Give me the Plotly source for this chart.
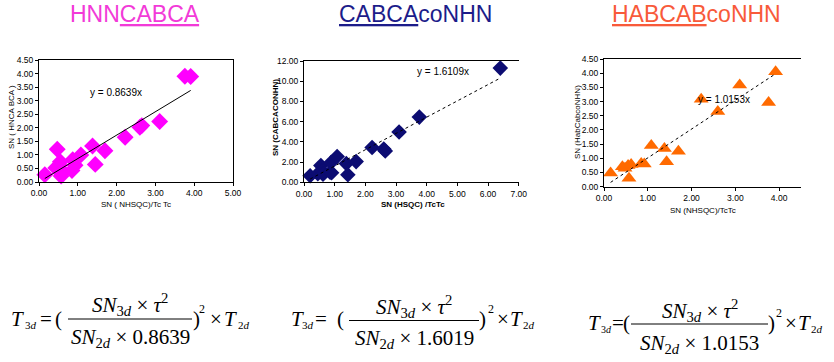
import plotly.graph_objects as go

# ---------------- data ----------------
chart_titles = ["HNN<u>CABCA</u>", "<u>CABCA</u>coNHN", "<u>HABCAB</u>coNHN"]

x1 = [0.15, 0.47, 0.43, 0.52, 0.55, 0.57, 0.62, 0.85, 0.87, 0.93, 1.08, 1.38, 1.45, 1.70, 2.22, 2.60, 2.65, 3.11, 3.76, 3.91]
y1 = [0.27, 1.21, 0.52, 0.62, 0.75, 0.22, 0.38, 0.42, 0.82, 0.62, 1.00, 1.33, 0.65, 1.15, 1.65, 2.02, 2.08, 2.23, 3.90, 3.89]

x2 = [0.20, 0.45, 0.55, 0.60, 0.62, 0.85, 0.88, 0.90, 1.08, 1.38, 1.43, 1.70, 2.22, 2.60, 2.65, 3.10, 3.76, 6.40]
y2 = [0.65, 0.85, 1.65, 1.10, 0.80, 1.00, 1.95, 0.95, 2.55, 1.85, 0.75, 2.05, 3.45, 3.30, 3.10, 4.98, 6.45, 11.30]

x3 = [0.15, 0.42, 0.48, 0.55, 0.57, 0.62, 0.85, 0.92, 1.08, 1.38, 1.43, 1.70, 2.22, 2.60, 3.10, 3.76, 3.92]
y3 = [0.48, 0.70, 0.65, 0.75, 0.30, 0.78, 0.82, 0.80, 1.45, 1.35, 0.88, 1.25, 3.08, 2.65, 3.58, 2.97, 4.05]

fit_slopes = [0.8639, 1.6109, 1.0153]
fit_labels = ["y = 0.8639x", "y = 1.6109x", "y = 1.0153x"]
formula_factors = ["0.8639", "1.6019", "1.0153"]

x_titles = ["SN ( NHSQC)/Tc Tc", "<b>SN (HSQC) /TcTc</b>", "SN (NHSQC)/TcTc"]
y_titles = ["SN ( HNCA BCA )", "<b>SN (CABCACONHN)</b>", "SN (HabCabcoNHN)"]

# ---------------- layout helpers ----------------
W, H = 834, 362
def px(x): return x / W
def py(y): return 1 - y / H

title_colors = ["#f23ad8", "#1c1c8a", "#f85a3a"]
marker_colors = ["#ff00ff", "#0c0c72", "#ff6a00"]
marker_symbols = ["diamond", "diamond", "triangle-up"]
marker_sizes = [13, 12, 13]
line_dash = ["solid", "dot", "dot"]

fig = go.Figure()

series = [(x1, y1), (x2, y2), (x3, y3)]
for i, (xs, ys) in enumerate(series):
    ax = "" if i == 0 else str(i + 1)
    fig.add_trace(go.Scatter(
        x=xs, y=ys, mode="markers", xaxis="x" + ax, yaxis="y" + ax,
        marker=dict(symbol=marker_symbols[i], size=marker_sizes[i], color=marker_colors[i], line=dict(width=0)),
        cliponaxis=False, showlegend=False, hoverinfo="x+y"))
    xa, xb = min(xs), max(xs)
    fig.add_trace(go.Scatter(
        x=[xa, xb], y=[fit_slopes[i] * xa, fit_slopes[i] * xb], mode="lines",
        xaxis="x" + ax, yaxis="y" + ax,
        line=dict(color="black", width=1, dash=line_dash[i]), showlegend=False, hoverinfo="skip"))

tickfont = dict(family="Liberation Sans, Arial", size=8.5, color="black")
common = dict(showline=True, linecolor="black", linewidth=1, showgrid=False, zeroline=False,
              ticks="outside", ticklen=3, tickwidth=1, tickcolor="black", tickfont=tickfont,
              tickformat=".2f", fixedrange=True, automargin=False)

# plot-area pixel boxes: (left, right, top, bottom)
boxes = [(39, 233, 60, 182), (304, 518.7, 61, 182.3), (604, 801, 59, 186.7)]
xranges = [[0, 5], [0, 7], [0, 4.5]]
yranges = [[0, 4.5], [0, 12], [0, 4.5]]
xticks = [[0, 1, 2, 3, 4, 5], [0, 1, 2, 3, 4, 5, 6, 7], [0, 1, 2, 3, 4]]
ydticks = [0.5, 2, 0.5]
xmirror = [True, True, True]
ymirror = [True, False, False]

layout = dict(width=W, height=H, autosize=False, margin=dict(l=0, r=0, t=0, b=0, pad=0, autoexpand=False),
              paper_bgcolor="white", plot_bgcolor="white", showlegend=False)
for i in range(3):
    l, r, t, b = boxes[i]
    sfx = "" if i == 0 else str(i + 1)
    layout["xaxis" + sfx] = dict(common, domain=[px(l), px(r)], range=xranges[i],
                                 tickvals=xticks[i], anchor="y" + sfx, mirror=xmirror[i])
    layout["yaxis" + sfx] = dict(common, domain=[py(b), py(t)], range=yranges[i],
                                 dtick=ydticks[i], tick0=0, anchor="x" + sfx, mirror=ymirror[i])
fig.update_layout(**layout)

ann = []
def text(t, x, y, size, family="Liberation Sans, Arial", xanchor="center", yanchor="middle", angle=0, color="black"):
    ann.append(dict(text=t, x=px(x), y=py(y), xref="paper", yref="paper", showarrow=False,
                    xanchor=xanchor, yanchor=yanchor, align="left" if xanchor == "left" else "center",
                    textangle=angle, borderpad=0, borderwidth=0,
                    font=dict(family=family, size=size, color=color)))

# chart titles
title_pos = [(135, 14), (415, 14), (696, 14)]
for i in range(3):
    text(chart_titles[i], title_pos[i][0], title_pos[i][1], 23, color=title_colors[i])
# axis titles
xt_pos = [(136, 204), (413, 204), (703, 210)]
yt_pos = [(11, 117), (276, 118), (577, 122)]
for i in range(3):
    text(x_titles[i], xt_pos[i][0], xt_pos[i][1], 8)
    text(y_titles[i], yt_pos[i][0], yt_pos[i][1], 8, angle=-90)
# fit labels
fl_pos = [(116, 92), (443, 71), (724, 100)]
for i in range(3):
    text(fit_labels[i], fl_pos[i][0], fl_pos[i][1], 10)

# formulas (serif, placed by baseline)
serif = "Liberation Serif, Times New Roman"
FS = 21
def at_base(t, x, base, size, xanchor="left"):
    # middle of the text box sits (ascent - descent)/2 above the baseline
    text(t, x, base - 0.3375 * size, size, family=serif, xanchor=xanchor)

# per formula: T, sub, '=', '(', bar l, bar r, ')', '2', 'x', T, sub, base, num base, den base, bar y
fgeo = [
    (11, 25, 40, 55, 68, 192, 193, 199, 210, 224, 238, 326, 312, 343, 319),
    (291, 302, 315, 337, 349, 479, 479, 488, 497, 510, 523, 326, 314, 344, 320.5),
    (588, 601, 612, 623, 631, 768, 768, 776, 785, 798, 811, 330, 318, 349, 324),
]
sub_sizes = [11, 11, 10]
shapes = []
for i in range(3):
    (tx, sx, eqx, lpx, bl, br, rpx, sqx, tmx, t2x, s2x, B, Bn, Bd, by) = fgeo[i]
    at_base("<i>T</i>", tx, B, FS)
    at_base("3<i>d</i>", sx, B + 3, sub_sizes[i])
    at_base("=", eqx, B, FS)
    at_base("(", lpx, B, FS)
    cx = (bl + br) / 2
    text("<i>SN</i><sub>3<i>d</i></sub> × <i>τ</i><sup>2</sup>", cx, Bn - 7.1, FS, family=serif)
    text("<i>SN</i><sub>2<i>d</i></sub> × " + formula_factors[i], cx, Bd - 5.5, FS, family=serif)
    at_base(")", rpx, B, FS)
    at_base("2", sqx, B - 13, 12)
    at_base("×", tmx, B, FS)
    at_base("<i>T</i>", t2x, B, FS)
    at_base("2<i>d</i>", s2x, B + 3, 11)
    shapes.append(dict(type="line", xref="paper", yref="paper", x0=px(bl), x1=px(br), y0=py(by), y1=py(by),
                       line=dict(color="black", width=1)))

fig.update_layout(annotations=ann, shapes=shapes)
fig.write_html("out.html", config={"displayModeBar": False},
               post_script="document.body.style.margin='0';document.body.style.overflow='hidden';")
